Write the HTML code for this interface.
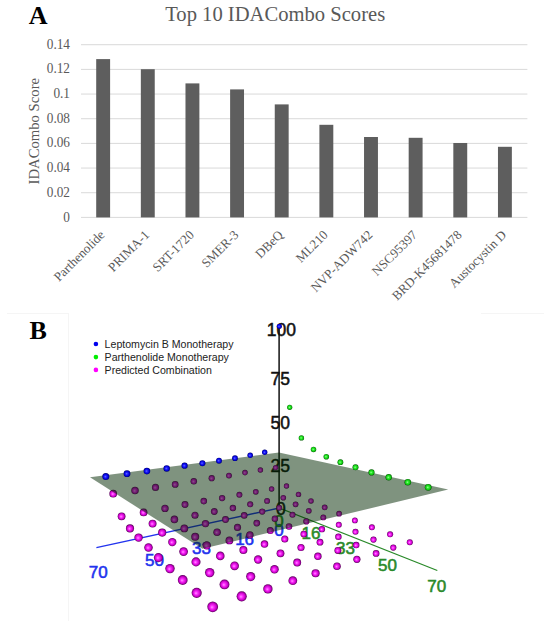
<!DOCTYPE html><html><head><meta charset="utf-8"><style>html,body{margin:0;padding:0;background:#fff;width:550px;height:621px;overflow:hidden}svg{display:block}</style></head><body>
<svg width="550" height="621" viewBox="0 0 550 621">
<defs>
<radialGradient id="gm" cx="0.5" cy="0.5" r="0.5" fx="0.42" fy="0.55"><stop offset="0" stop-color="#ff9cff"/><stop offset="0.3" stop-color="#ff30ff"/><stop offset="0.72" stop-color="#c800c8"/><stop offset="1" stop-color="#580058"/></radialGradient>
<radialGradient id="gb" cx="0.5" cy="0.5" r="0.5" fx="0.42" fy="0.5"><stop offset="0" stop-color="#6a6aff"/><stop offset="0.35" stop-color="#2020ff"/><stop offset="0.75" stop-color="#0000d0"/><stop offset="1" stop-color="#000070"/></radialGradient>
<radialGradient id="gg" cx="0.5" cy="0.5" r="0.5" fx="0.42" fy="0.5"><stop offset="0" stop-color="#a0ffa0"/><stop offset="0.35" stop-color="#30ee30"/><stop offset="0.75" stop-color="#10c010"/><stop offset="1" stop-color="#005a00"/></radialGradient>
</defs>
<rect width="550" height="621" fill="#fff"/>
<text x="28.7" y="23.6" font-family="Liberation Serif" font-weight="bold" font-size="26" fill="#000">A</text>
<text x="275.2" y="20.5" text-anchor="middle" font-family="Liberation Serif" font-size="20.6" fill="#595959">Top 10 IDACombo Scores</text>
<line x1="81" y1="217.40" x2="527.4" y2="217.40" stroke="#d9d9d9" stroke-width="1"/>
<text transform="translate(70,221.50) scale(1,1.08)" text-anchor="end" font-family="Liberation Serif" font-size="13.3" fill="#595959">0</text>
<line x1="81" y1="192.73" x2="527.4" y2="192.73" stroke="#d9d9d9" stroke-width="1"/>
<text transform="translate(70,196.83) scale(1,1.08)" text-anchor="end" font-family="Liberation Serif" font-size="13.3" fill="#595959">0.02</text>
<line x1="81" y1="168.06" x2="527.4" y2="168.06" stroke="#d9d9d9" stroke-width="1"/>
<text transform="translate(70,172.16) scale(1,1.08)" text-anchor="end" font-family="Liberation Serif" font-size="13.3" fill="#595959">0.04</text>
<line x1="81" y1="143.39" x2="527.4" y2="143.39" stroke="#d9d9d9" stroke-width="1"/>
<text transform="translate(70,147.49) scale(1,1.08)" text-anchor="end" font-family="Liberation Serif" font-size="13.3" fill="#595959">0.06</text>
<line x1="81" y1="118.72" x2="527.4" y2="118.72" stroke="#d9d9d9" stroke-width="1"/>
<text transform="translate(70,122.82) scale(1,1.08)" text-anchor="end" font-family="Liberation Serif" font-size="13.3" fill="#595959">0.08</text>
<line x1="81" y1="94.05" x2="527.4" y2="94.05" stroke="#d9d9d9" stroke-width="1"/>
<text transform="translate(70,98.15) scale(1,1.08)" text-anchor="end" font-family="Liberation Serif" font-size="13.3" fill="#595959">0.1</text>
<line x1="81" y1="69.38" x2="527.4" y2="69.38" stroke="#d9d9d9" stroke-width="1"/>
<text transform="translate(70,73.48) scale(1,1.08)" text-anchor="end" font-family="Liberation Serif" font-size="13.3" fill="#595959">0.12</text>
<line x1="81" y1="44.71" x2="527.4" y2="44.71" stroke="#d9d9d9" stroke-width="1"/>
<text transform="translate(70,48.81) scale(1,1.08)" text-anchor="end" font-family="Liberation Serif" font-size="13.3" fill="#595959">0.14</text>
<rect x="96.20" y="59.1" width="13.9" height="158.30" fill="#5e5e5e"/>
<text transform="translate(105.45,235.6) rotate(-45)" text-anchor="end" font-family="Liberation Serif" font-size="13" fill="#595959">Parthenolide</text>
<rect x="140.84" y="69.2" width="13.9" height="148.20" fill="#5e5e5e"/>
<text transform="translate(150.09,235.6) rotate(-45)" text-anchor="end" font-family="Liberation Serif" font-size="13" fill="#595959">PRIMA-1</text>
<rect x="185.48" y="83.4" width="13.9" height="134.00" fill="#5e5e5e"/>
<text transform="translate(194.73,235.6) rotate(-45)" text-anchor="end" font-family="Liberation Serif" font-size="13" fill="#595959">SRT-1720</text>
<rect x="230.12" y="89.4" width="13.9" height="128.00" fill="#5e5e5e"/>
<text transform="translate(239.37,235.6) rotate(-45)" text-anchor="end" font-family="Liberation Serif" font-size="13" fill="#595959">SMER-3</text>
<rect x="274.76" y="104.4" width="13.9" height="113.00" fill="#5e5e5e"/>
<text transform="translate(284.01,235.6) rotate(-45)" text-anchor="end" font-family="Liberation Serif" font-size="13" fill="#595959">DBeQ</text>
<rect x="319.40" y="124.8" width="13.9" height="92.60" fill="#5e5e5e"/>
<text transform="translate(328.65,235.6) rotate(-45)" text-anchor="end" font-family="Liberation Serif" font-size="13" fill="#595959">ML210</text>
<rect x="364.04" y="137.0" width="13.9" height="80.40" fill="#5e5e5e"/>
<text transform="translate(373.29,235.6) rotate(-45)" text-anchor="end" font-family="Liberation Serif" font-size="13" fill="#595959">NVP-ADW742</text>
<rect x="408.68" y="137.8" width="13.9" height="79.60" fill="#5e5e5e"/>
<text transform="translate(417.93,235.6) rotate(-45)" text-anchor="end" font-family="Liberation Serif" font-size="13" fill="#595959">NSC95397</text>
<rect x="453.32" y="143.0" width="13.9" height="74.40" fill="#5e5e5e"/>
<text transform="translate(462.57,235.6) rotate(-45)" text-anchor="end" font-family="Liberation Serif" font-size="13" fill="#595959">BRD-K45681478</text>
<rect x="497.96" y="146.8" width="13.9" height="70.60" fill="#5e5e5e"/>
<text transform="translate(507.21,235.6) rotate(-45)" text-anchor="end" font-family="Liberation Serif" font-size="13" fill="#595959">Austocystin D</text>
<text transform="translate(39.2,131.2) rotate(-90)" text-anchor="middle" font-family="Liberation Serif" font-size="14.7" fill="#595959">IDACombo Score</text>
<line x1="68.5" y1="313" x2="68.5" y2="621" stroke="#f5f5f5" stroke-width="1"/>
<line x1="7" y1="313.5" x2="68" y2="313.5" stroke="#f5f5f5" stroke-width="1"/>
<line x1="481" y1="313.5" x2="544" y2="313.5" stroke="#f5f5f5" stroke-width="1"/>
<text x="29.5" y="338.5" font-family="Liberation Serif" font-weight="bold" font-size="26" fill="#000">B</text>
<circle cx="95.9" cy="344" r="2.3" fill="#0000ee"/>
<text x="104.6" y="347.8" font-family="Liberation Sans" font-size="10.6" fill="#222">Leptomycin B Monotherapy</text>
<circle cx="95.9" cy="357.1" r="2.3" fill="#00ee00"/>
<text x="104.6" y="360.9" font-family="Liberation Sans" font-size="10.6" fill="#222">Parthenolide Monotherapy</text>
<circle cx="95.9" cy="369.9" r="2.3" fill="#ff00ff"/>
<text x="104.6" y="373.7" font-family="Liberation Sans" font-size="10.6" fill="#222">Predicted Combination</text>
<line x1="279.2" y1="508.0" x2="96.4" y2="547.7" stroke="#2233ee" stroke-width="1.3"/>
<line x1="279.2" y1="508.0" x2="437.3" y2="570.5" stroke="#2a8a2a" stroke-width="1.3"/>
<line x1="279.1" y1="326" x2="279.1" y2="505.0" stroke="#111" stroke-width="1.5"/>
<text x="281.3" y="336.4" text-anchor="middle" font-family="Liberation Sans" font-size="17.5" stroke-width="0.5" fill="#111" stroke="#111">100</text>
<text x="280.35" y="384.5" text-anchor="middle" font-family="Liberation Sans" font-size="17.5" stroke-width="0.5" fill="#111" stroke="#111">75</text>
<text x="280.15" y="429" text-anchor="middle" font-family="Liberation Sans" font-size="17.5" stroke-width="0.5" fill="#111" stroke="#111">50</text>
<text x="280.35" y="472.2" text-anchor="middle" font-family="Liberation Sans" font-size="17.5" stroke-width="0.5" fill="#111" stroke="#111">25</text>
<text x="280.8" y="514.6" text-anchor="middle" font-family="Liberation Sans" font-size="17.5" stroke-width="0.5" fill="#111" stroke="#111">0</text>
<text x="278.9" y="535.7" text-anchor="middle" font-family="Liberation Sans" font-size="17" stroke-width="0.55" fill="#2233ee" stroke="#2233ee">0</text>
<text x="244.6" y="545" text-anchor="middle" font-family="Liberation Sans" font-size="17" stroke-width="0.55" fill="#2233ee" stroke="#2233ee">16</text>
<text x="201.5" y="554.2" text-anchor="middle" font-family="Liberation Sans" font-size="17" stroke-width="0.55" fill="#2233ee" stroke="#2233ee">33</text>
<text x="154.5" y="565.5" text-anchor="middle" font-family="Liberation Sans" font-size="17" stroke-width="0.55" fill="#2233ee" stroke="#2233ee">50</text>
<text x="98.2" y="578.2" text-anchor="middle" font-family="Liberation Sans" font-size="17" stroke-width="0.55" fill="#2233ee" stroke="#2233ee">70</text>
<text x="278.9" y="527.2" text-anchor="middle" font-family="Liberation Sans" font-size="17" stroke-width="0.55" fill="#2a8a2a" stroke="#2a8a2a">0</text>
<text x="311" y="539.4" text-anchor="middle" font-family="Liberation Sans" font-size="17" stroke-width="0.55" fill="#2a8a2a" stroke="#2a8a2a">16</text>
<text x="345.4" y="553.9" text-anchor="middle" font-family="Liberation Sans" font-size="17" stroke-width="0.55" fill="#2a8a2a" stroke="#2a8a2a">33</text>
<text x="387.5" y="570.9" text-anchor="middle" font-family="Liberation Sans" font-size="17" stroke-width="0.55" fill="#2a8a2a" stroke="#2a8a2a">50</text>
<text x="436.8" y="592.4" text-anchor="middle" font-family="Liberation Sans" font-size="17" stroke-width="0.55" fill="#2a8a2a" stroke="#2a8a2a">70</text>
<circle cx="275.6" cy="467.6" r="2.69" fill="url(#gm)"/>
<circle cx="260.4" cy="470" r="2.71" fill="url(#gm)"/>
<circle cx="245" cy="472.6" r="2.79" fill="url(#gm)"/>
<circle cx="229" cy="475.6" r="2.96" fill="url(#gm)"/>
<circle cx="211.7" cy="478.2" r="3.12" fill="url(#gm)"/>
<circle cx="193.8" cy="481.3" r="3.24" fill="url(#gm)"/>
<circle cx="175.2" cy="484.4" r="3.39" fill="url(#gm)"/>
<circle cx="155.5" cy="487.4" r="3.56" fill="url(#gm)"/>
<circle cx="135" cy="490.5" r="3.74" fill="url(#gm)"/>
<circle cx="113.2" cy="493.7" r="3.86" fill="url(#gm)"/>
<circle cx="286.5" cy="486" r="2.66" fill="url(#gm)"/>
<circle cx="271.6" cy="488.9" r="2.73" fill="url(#gm)"/>
<circle cx="255.8" cy="491.8" r="2.86" fill="url(#gm)"/>
<circle cx="239.4" cy="494.8" r="3.00" fill="url(#gm)"/>
<circle cx="222.1" cy="498.1" r="3.16" fill="url(#gm)"/>
<circle cx="203.8" cy="501.1" r="3.29" fill="url(#gm)"/>
<circle cx="185" cy="504.5" r="3.45" fill="url(#gm)"/>
<circle cx="165" cy="508.4" r="3.69" fill="url(#gm)"/>
<circle cx="143.6" cy="512.4" r="3.86" fill="url(#gm)"/>
<circle cx="121.6" cy="516.3" r="3.91" fill="url(#gm)"/>
<circle cx="298.5" cy="494.4" r="2.72" fill="url(#gm)"/>
<circle cx="283.3" cy="497.7" r="2.81" fill="url(#gm)"/>
<circle cx="267.1" cy="500.9" r="2.95" fill="url(#gm)"/>
<circle cx="250.2" cy="504.3" r="3.06" fill="url(#gm)"/>
<circle cx="232.9" cy="508" r="3.20" fill="url(#gm)"/>
<circle cx="214.3" cy="511.5" r="3.38" fill="url(#gm)"/>
<circle cx="195" cy="515.2" r="3.56" fill="url(#gm)"/>
<circle cx="174.4" cy="519.4" r="3.78" fill="url(#gm)"/>
<circle cx="152.6" cy="523.6" r="3.96" fill="url(#gm)"/>
<circle cx="130" cy="528.4" r="4.04" fill="url(#gm)"/>
<circle cx="311" cy="500.9" r="2.76" fill="url(#gm)"/>
<circle cx="295.6" cy="504.3" r="2.85" fill="url(#gm)"/>
<circle cx="279.2" cy="507.8" r="2.99" fill="url(#gm)"/>
<circle cx="262.2" cy="511.6" r="3.13" fill="url(#gm)"/>
<circle cx="244.2" cy="515.4" r="3.28" fill="url(#gm)"/>
<circle cx="225.5" cy="519.5" r="3.46" fill="url(#gm)"/>
<circle cx="205.5" cy="523.6" r="3.69" fill="url(#gm)"/>
<circle cx="184.3" cy="528.4" r="3.87" fill="url(#gm)"/>
<circle cx="162.2" cy="532.6" r="4.08" fill="url(#gm)"/>
<circle cx="138.6" cy="537.6" r="4.22" fill="url(#gm)"/>
<circle cx="324.7" cy="507.4" r="2.85" fill="url(#gm)"/>
<circle cx="308.8" cy="510.8" r="2.89" fill="url(#gm)"/>
<circle cx="292.5" cy="514.8" r="3.05" fill="url(#gm)"/>
<circle cx="274.9" cy="518.7" r="3.21" fill="url(#gm)"/>
<circle cx="256.8" cy="523.1" r="3.36" fill="url(#gm)"/>
<circle cx="237.5" cy="527.4" r="3.56" fill="url(#gm)"/>
<circle cx="217.1" cy="532.2" r="3.79" fill="url(#gm)"/>
<circle cx="195.2" cy="536.8" r="4.01" fill="url(#gm)"/>
<circle cx="172.3" cy="542.1" r="4.19" fill="url(#gm)"/>
<circle cx="148.5" cy="547.5" r="4.27" fill="url(#gm)"/>
<circle cx="339.1" cy="513.7" r="2.84" fill="url(#gm)"/>
<circle cx="323.3" cy="517.4" r="2.95" fill="url(#gm)"/>
<circle cx="306.3" cy="521.4" r="3.10" fill="url(#gm)"/>
<circle cx="289" cy="526.4" r="3.25" fill="url(#gm)"/>
<circle cx="270.3" cy="530.6" r="3.50" fill="url(#gm)"/>
<circle cx="249.9" cy="534.9" r="3.68" fill="url(#gm)"/>
<circle cx="229.4" cy="540.4" r="3.88" fill="url(#gm)"/>
<circle cx="206.8" cy="545.4" r="4.13" fill="url(#gm)"/>
<circle cx="183.6" cy="551.6" r="4.37" fill="url(#gm)"/>
<circle cx="158.4" cy="557.6" r="4.53" fill="url(#gm)"/>
<circle cx="354.9" cy="520.4" r="2.92" fill="url(#gm)"/>
<circle cx="338.8" cy="524.7" r="2.99" fill="url(#gm)"/>
<circle cx="321.9" cy="529.2" r="3.17" fill="url(#gm)"/>
<circle cx="303.8" cy="534" r="3.36" fill="url(#gm)"/>
<circle cx="284.8" cy="539" r="3.55" fill="url(#gm)"/>
<circle cx="264.5" cy="544.1" r="3.75" fill="url(#gm)"/>
<circle cx="243.4" cy="550" r="4.00" fill="url(#gm)"/>
<circle cx="220.3" cy="555.9" r="4.28" fill="url(#gm)"/>
<circle cx="196" cy="561.9" r="4.54" fill="url(#gm)"/>
<circle cx="170" cy="568.6" r="4.70" fill="url(#gm)"/>
<circle cx="371.9" cy="527.3" r="2.98" fill="url(#gm)"/>
<circle cx="355.5" cy="531.8" r="3.05" fill="url(#gm)"/>
<circle cx="338.4" cy="536.8" r="3.24" fill="url(#gm)"/>
<circle cx="320" cy="542.2" r="3.40" fill="url(#gm)"/>
<circle cx="301" cy="547.5" r="3.59" fill="url(#gm)"/>
<circle cx="280.5" cy="553.3" r="3.90" fill="url(#gm)"/>
<circle cx="258.1" cy="559.5" r="4.16" fill="url(#gm)"/>
<circle cx="234.6" cy="565.8" r="4.39" fill="url(#gm)"/>
<circle cx="209.7" cy="572.6" r="4.71" fill="url(#gm)"/>
<circle cx="182.7" cy="580" r="4.90" fill="url(#gm)"/>
<circle cx="390.1" cy="534.3" r="3.05" fill="url(#gm)"/>
<circle cx="373.5" cy="539.6" r="3.11" fill="url(#gm)"/>
<circle cx="356.2" cy="545.1" r="3.26" fill="url(#gm)"/>
<circle cx="337.9" cy="550.4" r="3.49" fill="url(#gm)"/>
<circle cx="317.9" cy="556.3" r="3.72" fill="url(#gm)"/>
<circle cx="297.2" cy="562.5" r="3.96" fill="url(#gm)"/>
<circle cx="274.5" cy="569.3" r="4.25" fill="url(#gm)"/>
<circle cx="250.7" cy="576.6" r="4.57" fill="url(#gm)"/>
<circle cx="224.5" cy="584.4" r="4.93" fill="url(#gm)"/>
<circle cx="196.7" cy="592.8" r="5.08" fill="url(#gm)"/>
<circle cx="409.8" cy="542.2" r="3.04" fill="url(#gm)"/>
<circle cx="393.3" cy="547.6" r="3.11" fill="url(#gm)"/>
<circle cx="376.1" cy="553.4" r="3.35" fill="url(#gm)"/>
<circle cx="356.9" cy="559.3" r="3.60" fill="url(#gm)"/>
<circle cx="337" cy="566.2" r="3.81" fill="url(#gm)"/>
<circle cx="315.6" cy="573.2" r="4.07" fill="url(#gm)"/>
<circle cx="292.8" cy="580.7" r="4.39" fill="url(#gm)"/>
<circle cx="267.9" cy="588.9" r="4.68" fill="url(#gm)"/>
<circle cx="241.7" cy="596.3" r="5.08" fill="url(#gm)"/>
<circle cx="212.7" cy="606.8" r="5.40" fill="url(#gm)"/>
<polygon points="278.9,452.5 448.2,489.6 202.4,548.8 90,477.3" fill="rgb(0,40,0)" fill-opacity="0.5"/>
<circle cx="264.7" cy="452.3" r="2.70" fill="url(#gb)"/>
<circle cx="250.2" cy="455.3" r="2.79" fill="url(#gb)"/>
<circle cx="235" cy="458.2" r="2.88" fill="url(#gb)"/>
<circle cx="219" cy="460.7" r="2.97" fill="url(#gb)"/>
<circle cx="202.4" cy="463.2" r="3.06" fill="url(#gb)"/>
<circle cx="184.6" cy="465.7" r="3.15" fill="url(#gb)"/>
<circle cx="166.7" cy="468.4" r="3.24" fill="url(#gb)"/>
<circle cx="146.9" cy="471.1" r="3.33" fill="url(#gb)"/>
<circle cx="127" cy="473.7" r="3.42" fill="url(#gb)"/>
<circle cx="105.8" cy="476.6" r="3.51" fill="url(#gb)"/>
<circle cx="289.7" cy="407.3" r="2.60" fill="url(#gg)"/>
<circle cx="301.4" cy="437.9" r="2.70" fill="url(#gg)"/>
<circle cx="313.5" cy="449.4" r="2.75" fill="url(#gg)"/>
<circle cx="326.3" cy="456.7" r="2.80" fill="url(#gg)"/>
<circle cx="340.4" cy="462.2" r="2.90" fill="url(#gg)"/>
<circle cx="355.5" cy="467.3" r="3.00" fill="url(#gg)"/>
<circle cx="371.5" cy="472.4" r="3.10" fill="url(#gg)"/>
<circle cx="388.7" cy="477.3" r="3.20" fill="url(#gg)"/>
<circle cx="407.8" cy="482.2" r="3.30" fill="url(#gg)"/>
<circle cx="428.2" cy="487.3" r="3.40" fill="url(#gg)"/>
<circle cx="279.3" cy="326.3" r="2.6" fill="url(#gb)"/>
</svg></body></html>
